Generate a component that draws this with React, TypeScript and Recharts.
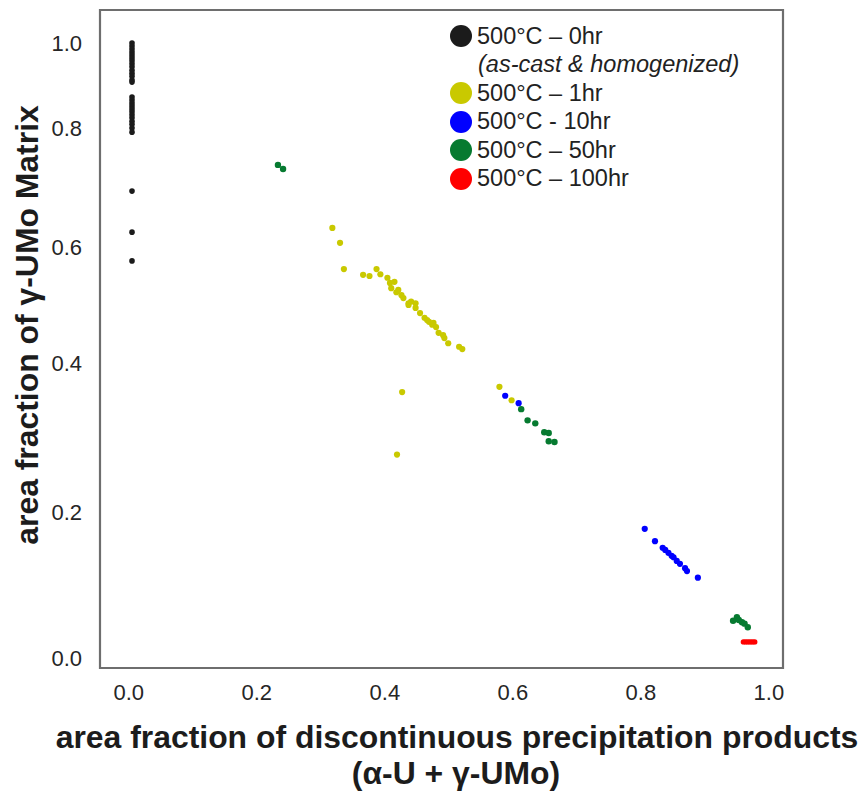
import { ScatterChart, Scatter, XAxis, YAxis, ReferenceArea } from 'recharts'

const FONT = '"Liberation Sans", Arial, Helvetica, sans-serif'

// tick labels
const X_TICKS = [0, 0.2, 0.4, 0.6, 0.8, 1.0]
const Y_TICKS = [0, 0.2, 0.4, 0.6, 0.8, 1.0]
// the reference's y axis is unevenly spaced: where each tick sits (0 = bottom tick, 1 = top tick)
const Y_TICK_STOPS = [0, 0.2374, 0.4797, 0.6683, 0.8618, 1]

// 500°C – 0hr (as-cast & homogenized)
const H0: [number, number][] = [
    [0.005, 1.0], [0.005, 0.993], [0.005, 0.986], [0.005, 0.979], [0.005, 0.972], [0.005, 0.965],
    [0.005, 0.958], [0.005, 0.951], [0.005, 0.944], [0.005, 0.936], [0.005, 0.929], [0.005, 0.922],
    [0.005, 0.913], [0.005, 0.908],
    [0.005, 0.873], [0.005, 0.866], [0.005, 0.859], [0.005, 0.852], [0.005, 0.845], [0.005, 0.838],
    [0.005, 0.831], [0.005, 0.824], [0.005, 0.816], [0.005, 0.809], [0.005, 0.8], [0.005, 0.793],
    [0.005, 0.694], [0.005, 0.625], [0.005, 0.576]
]

// 500°C – 1hr
const H1: [number, number][] = [
    [0.318, 0.632], [0.33, 0.607], [0.336, 0.562], [0.366, 0.552], [0.376, 0.55], [0.387, 0.562],
    [0.393, 0.553], [0.404, 0.547], [0.408, 0.538], [0.415, 0.54], [0.41, 0.529], [0.418, 0.522],
    [0.421, 0.526], [0.426, 0.517], [0.429, 0.512], [0.437, 0.503], [0.441, 0.506], [0.448, 0.503],
    [0.437, 0.5], [0.448, 0.495], [0.455, 0.486], [0.462, 0.478], [0.466, 0.474], [0.469, 0.471],
    [0.474, 0.466], [0.476, 0.469], [0.48, 0.462], [0.484, 0.452], [0.491, 0.448], [0.493, 0.443],
    [0.499, 0.434], [0.516, 0.428], [0.521, 0.424],
    [0.427, 0.361], [0.419, 0.277], [0.579, 0.368], [0.598, 0.35]
]

// 500°C - 10hr
const H10: [number, number][] = [
    [0.588, 0.356], [0.609, 0.346],
    [0.806, 0.177], [0.822, 0.16], [0.834, 0.151], [0.838, 0.148], [0.843, 0.144], [0.848, 0.14],
    [0.851, 0.138], [0.856, 0.133], [0.861, 0.129], [0.869, 0.123], [0.872, 0.119], [0.889, 0.11]
]

// 500°C – 50hr
const H50: [number, number][] = [
    [0.233, 0.738], [0.241, 0.731],
    [0.613, 0.338], [0.623, 0.323], [0.635, 0.319], [0.649, 0.307], [0.656, 0.306], [0.656, 0.295],
    [0.665, 0.294],
    [0.944, 0.051], [0.95, 0.056], [0.953, 0.052], [0.958, 0.049], [0.962, 0.047], [0.967, 0.042]
]

// 500°C – 100hr
const H100: [number, number][] = [
    [0.96, 0.022], [0.963, 0.022], [0.966, 0.022], [0.969, 0.022], [0.972, 0.022], [0.975, 0.022],
    [0.978, 0.022]
]

const SERIES = [
    { name: '500°C – 0hr', note: '(as-cast & homogenized)', data: H0, color: '#1b1b1b', r: 2.8 },
    { name: '500°C – 1hr', data: H1, color: '#c9c900', r: 3.1 },
    { name: '500°C - 10hr', data: H10, color: '#0000ff', r: 3.1 },
    { name: '500°C – 50hr', data: H50, color: '#067a30', r: 3.2 },
    { name: '500°C – 100hr', data: H100, color: '#ff0000', r: 2.6 }
]

// piecewise-linear warp so the linear axis reproduces the uneven tick spacing
function warp(v: number) {
    let i = 0
    while (i < Y_TICKS.length - 2 && v > Y_TICKS[i + 1]) i++
    const t = (v - Y_TICKS[i]) / (Y_TICKS[i + 1] - Y_TICKS[i])
    return Y_TICK_STOPS[i] + t * (Y_TICK_STOPS[i + 1] - Y_TICK_STOPS[i])
}

function unwarp(w: number) {
    let i = 0
    while (i < Y_TICK_STOPS.length - 2 && w > Y_TICK_STOPS[i + 1]) i++
    const t = (w - Y_TICK_STOPS[i]) / (Y_TICK_STOPS[i + 1] - Y_TICK_STOPS[i])
    return Y_TICKS[i] + t * (Y_TICKS[i + 1] - Y_TICKS[i])
}

const X_DOMAIN: [number, number] = [-0.045, 1.022]
const Y_DOMAIN: [number, number] = [-0.0163, 1.0537]

const dot = (color: string, r: number) => (props: any) => (
    <circle cx={props.cx} cy={props.cy} r={r} fill={color} />
)

export default function App() {
    const tick = { fontSize: 22, fill: '#262626', fontFamily: FONT }

    return (
        <div style={{ position: 'absolute', left: 0, top: 0, width: 861, height: 795, background: '#fff', fontFamily: FONT }}>
            <ScatterChart width={861} height={795} margin={{ top: 10, right: 78, bottom: 67, left: 10 }}>
                <XAxis
                    type="number"
                    dataKey="x"
                    domain={X_DOMAIN}
                    ticks={X_TICKS}
                    allowDataOverflow
                    height={60}
                    axisLine={false}
                    tickLine={false}
                    tickSize={0}
                    tickMargin={16}
                    tick={tick}
                    tickFormatter={(v: number) => v.toFixed(1)}
                />
                <YAxis
                    type="number"
                    dataKey="y"
                    domain={Y_DOMAIN}
                    ticks={Y_TICKS.map(warp)}
                    allowDataOverflow
                    width={90}
                    axisLine={false}
                    tickLine={false}
                    tickSize={0}
                    tickMargin={18}
                    tick={tick}
                    tickFormatter={(v: number) => unwarp(v).toFixed(1)}
                />
                <ReferenceArea
                    x1={X_DOMAIN[0]}
                    x2={X_DOMAIN[1]}
                    y1={Y_DOMAIN[0]}
                    y2={Y_DOMAIN[1]}
                    fill="none"
                    stroke="#6e6e6e"
                    strokeWidth={2.2}
                    ifOverflow="visible"
                />
                {SERIES.map(s => (
                    <Scatter
                        key={s.name}
                        name={s.name}
                        data={s.data.map(([x, y]) => ({ x, y: warp(y) }))}
                        shape={dot(s.color, s.r)}
                        isAnimationActive={false}
                    />
                ))}
            </ScatterChart>

            {/* legend */}
            <div style={{ position: 'absolute', left: 450, top: 21.75, fontSize: 23.5, color: '#222' }}>
                {SERIES.map(s => (
                    <div key={s.name}>
                        <div style={{ display: 'flex', alignItems: 'center', height: 28.5, lineHeight: '28.5px' }}>
                            <span style={{ width: 22, height: 22, borderRadius: 11, background: s.color, marginRight: 5 }} />
                            <span>{s.name}</span>
                        </div>
                        {s.note && (
                            <div style={{ height: 28.5, lineHeight: '28.5px', paddingLeft: 28, fontStyle: 'italic' }}>
                                {s.note}
                            </div>
                        )}
                    </div>
                ))}
            </div>

            {/* axis titles */}
            <svg width={861} height={795} style={{ position: 'absolute', left: 0, top: 0, pointerEvents: 'none' }}>
                <text x={457} y={748} textAnchor="middle" fontSize={31.9} fontWeight="bold" fill="#1c1c1c" fontFamily={FONT}>
                    area fraction of discontinuous precipitation products
                </text>
                <text x={456} y={784} textAnchor="middle" fontSize={31.9} fontWeight="bold" fill="#1c1c1c" fontFamily={FONT}>
                    (α-U + γ-UMo)
                </text>
                <text transform="translate(38, 325) rotate(-90)" textAnchor="middle" fontSize={31.9} fontWeight="bold" fill="#1c1c1c" fontFamily={FONT}>
                    area fraction of γ-UMo Matrix
                </text>
            </svg>
        </div>
    )
}
